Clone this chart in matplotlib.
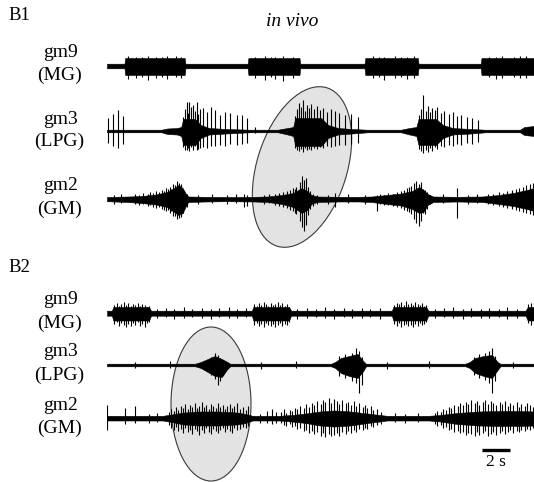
import numpy as np
import matplotlib
matplotlib.use("Agg")
import matplotlib.pyplot as plt
from matplotlib.patches import Ellipse

# ---------------- data (time in s, amplitudes in a.u.) ----------------
T_END = 30.5

# B1 gm9 (MG)
b1_gm9_env_t = [0, 1.25, 1.3, 5.55, 5.6, 10.05, 10.1, 13.75, 13.8, 18.4, 18.45, 22.2, 22.25, 26.7, 26.75, 30.5]
b1_gm9_env_up = [2.3, 2.3, 8, 8, 2.3, 2.3, 8, 8, 2.3, 2.3, 8, 8, 2.3, 2.3, 8, 8]
b1_gm9_env_dn = [2.3, 2.3, 9, 9, 2.3, 2.3, 9, 9, 2.3, 2.3, 9, 9, 2.3, 2.3, 9, 9]
b1_gm9_spk_t = [1.5, 2.1, 2.5, 2.9, 3.5, 3.9, 4.3, 4.9, 5.3, 10.6, 11.3, 11.7, 12.0, 12.6, 13.3, 19.0, 19.4, 19.8,
                20.6, 21.0, 21.4, 21.9, 27.3, 27.8, 28.2, 29.1, 29.5, 29.9]
b1_gm9_spk_up = [10, 9, 9, 10, 9, 9, 10, 10, 9, 9, 10, 9, 9, 10, 9, 10, 9, 9, 10, 9, 9, 10, 9, 9, 10, 9, 10, 10]
b1_gm9_spk_dn = [13, 12, 11, 14, 12, 11, 13, 11, 12, 12, 14, 11, 13, 15, 12, 12, 11, 14, 12, 11, 13, 12, 11, 13,
                 12, 11, 12, 12]

# B1 gm3 (LPG)
b1_gm3_env_t = [0, 3.9, 4.3, 5.0, 5.3, 5.45, 6.3, 6.7, 7.3, 8.5, 10.2, 12.2, 12.9, 13.3, 13.45, 15.3, 15.8, 16.5,
                17.5, 18.6, 21.0, 21.6, 22.1, 22.25, 23.5, 24.0, 24.7, 26.0, 27.0, 29.5, 29.8, 30.5]
b1_gm3_env_up = [1.3, 1.3, 2.5, 3, 4, 12, 12, 6, 3, 2, 1.3, 1.3, 3, 4, 13, 13, 6, 3,
                 2, 1.3, 1.3, 3, 4, 12, 12, 6, 3, 2, 1.3, 1.3, 4, 5]
b1_gm3_env_dn = [1.3, 1.3, 3, 3.5, 5, 14, 14, 7, 3.5, 2.5, 1.3, 1.3, 3.5, 5, 15, 15, 7, 3.5,
                 2.5, 1.3, 1.3, 3.5, 5, 14, 14, 7, 3.5, 2.5, 1.3, 1.3, 4, 5]
b1_gm3_spk_t = [0.07, 0.43, 0.79, 1.14,
                5.45, 5.6, 5.69, 5.8, 5.88, 6.0, 6.17, 6.28, 6.40, 6.52, 6.64, 6.88, 7.12, 7.43, 7.71, 8.07, 8.43,
                8.79, 9.26, 9.62, 9.98, 10.6,
                13.4, 13.55, 13.7, 13.85, 14.0, 14.15, 14.3, 14.45, 14.6, 14.8, 15.0, 15.2, 15.45, 15.7, 16.0, 16.3,
                16.6, 17.0, 17.4, 17.9,
                22.3, 22.45, 22.6, 22.75, 22.9, 23.05, 23.2, 23.4, 23.6, 23.85, 24.1, 24.4, 24.7, 25.0, 25.3, 25.7,
                26.1, 26.5]
b1_gm3_spk_up = [13, 17, 21, 15,
                 14, 22, 29, 18, 29, 24, 26, 20, 29, 17, 22, 23, 19, 24, 21, 16, 19,
                 18, 16, 16, 13, 4,
                 15, 22, 28, 24, 31, 20, 26, 23, 27, 22, 25, 21, 23, 19, 22, 20,
                 18, 16, 17, 14,
                 16, 22, 36, 20, 25, 19, 23, 21, 24, 18, 20, 17, 19, 15, 16, 14,
                 13, 11]
b1_gm3_spk_dn = [12, 15, 17, 13,
                 16, 19, 19, 17, 20, 16, 19, 15, 19, 18, 17, 16, 17, 15, 15, 14, 15,
                 13, 14, 13, 12, 2,
                 17, 19, 20, 18, 21, 17, 19, 18, 19, 17, 18, 16, 17, 15, 16, 15,
                 14, 14, 13, 12,
                 18, 20, 22, 19, 21, 17, 20, 16, 18, 15, 16, 14, 15, 13, 14, 12,
                 13, 11]

# B1 gm2 (GM)
b1_gm2_env_t = [0, 1.5, 2.5, 3.5, 4.3, 4.8, 5.1, 5.4, 5.6, 5.8, 7.0, 8.5, 10.5, 11.5, 12.5, 13.3, 13.9, 14.3,
                14.6, 15.0, 16.5, 18.0, 18.9, 20.0, 21.0, 21.8, 22.3, 22.6, 22.9, 23.3, 25.0, 26.8, 28.0, 29.0,
                30.0, 30.5]
b1_gm2_env_up = [2, 2.5, 3, 4.5, 7, 11, 14, 11, 6, 2.5, 2.2, 2, 2.2, 2.5, 4, 6, 11, 8,
                 4, 2.5, 2.2, 2.2, 2.5, 4, 5.5, 8, 12, 9, 5, 2.5, 2.2, 2.5, 4, 6,
                 9, 11]
b1_gm2_env_dn = [2.2, 3, 4, 5.5, 8, 13, 16, 14, 8, 3, 2.5, 2.2, 2.5, 3, 5, 8, 14, 11,
                 5, 3, 2.5, 2.5, 3, 5, 6.5, 10, 14, 13, 6, 3, 2.5, 3, 5, 7,
                 10, 12]
b1_gm2_spk_t = [4.6, 4.85, 5.0, 5.15, 5.3, 5.5, 9.8, 10.0, 13.5, 13.75, 13.9, 14.05, 14.2, 14.35, 16.3, 19.3,
                21.7, 21.95, 22.1, 22.25, 22.4, 22.55, 25.0,
                2.0, 2.3, 2.6, 2.9, 3.1, 3.3, 3.5, 3.7, 3.9, 4.05, 4.2, 4.35, 4.5, 4.7, 5.25, 5.45, 5.7,
                11.2, 11.6, 12.0, 12.3, 12.6, 12.85, 13.05, 13.25, 13.4, 14.5, 14.7, 15.0,
                19.5, 19.8, 20.1, 20.4, 20.7, 21.0, 21.2, 21.4, 21.55, 22.7, 22.85, 23.1,
                27.2, 27.6, 28.0, 28.3, 28.6, 28.9, 29.2, 29.45, 29.7, 29.95, 30.2, 30.4,
                0.5, 1.0, 6.5, 7.5, 8.6, 9.2, 15.8, 17.2, 18.4, 24.0, 25.8, 26.4]
b1_gm2_spk_up = [10, 14, 18, 16, 13, 8, 5, 4, 12, 17, 23, 19, 21, 12, 6, 4, 13, 16, 18, 15, 17, 10, 11,
                 5, 4, 6, 5, 7, 6, 8, 7, 9, 8, 11, 10, 12, 15, 15, 10, 5,
                 4, 5, 5, 6, 7, 8, 9, 11, 10, 8, 5, 4,
                 5, 4, 6, 5, 7, 8, 9, 11, 12, 9, 7, 4,
                 5, 5, 7, 6, 8, 9, 10, 11, 12, 14, 15, 16,
                 4, 5, 4, 5, 4, 5, 4, 5, 4, 5, 4, 5]
b1_gm2_spk_dn = [12, 17, 20, 19, 16, 10, 8, 7, 15, 22, 28, 32, 26, 16, 8, 12, 15, 20, 24, 27, 22, 14, 19,
                 5, 6, 5, 7, 6, 8, 9, 8, 10, 11, 12, 11, 14, 17, 18, 14, 8,
                 5, 4, 6, 7, 8, 9, 11, 12, 14, 10, 7, 5,
                 5, 6, 6, 7, 8, 9, 11, 12, 13, 15, 10, 5,
                 5, 6, 7, 8, 9, 10, 11, 12, 13, 14, 15, 16,
                 5, 4, 5, 4, 5, 4, 5, 4, 5, 4, 5, 4]

# B2 gm9 (MG)
b2_gm9_env_t = [0, 0.35, 0.45, 3.0, 3.15, 10.35, 10.45, 13.0, 13.15, 20.35, 20.45, 22.8, 22.95, 29.9, 30.05, 30.5]
b2_gm9_env_up = [2.3, 2.3, 6, 6, 2.3, 2.3, 6, 6, 2.3, 2.3, 6, 6, 2.3, 2.3, 6, 6]
b2_gm9_env_dn = [2.7, 2.7, 7.5, 7.5, 2.7, 2.7, 7.5, 7.5, 2.7, 2.7, 7.5, 7.5, 2.7, 2.7, 7.5, 7.5]
b2_gm9_spk_t = [0.5, 0.7, 0.85, 1.0, 1.2, 1.35, 1.5, 1.7, 1.85, 2.0, 2.2, 2.35, 2.5, 2.7, 2.85, 3.0,
                10.5, 10.7, 10.85, 11.0, 11.2, 11.35, 11.5, 11.7, 11.85, 12.0, 12.2, 12.35, 12.5, 12.7, 12.85, 13.0,
                20.5, 20.7, 20.85, 21.0, 21.2, 21.35, 21.5, 21.7, 21.85, 22.0, 22.2, 22.35, 22.5, 22.65, 22.8,
                30.1, 30.3,
                3.6, 4.2, 4.8, 5.5, 6.1, 6.8, 7.4, 8.0, 8.7, 9.3, 9.9, 13.6, 14.3, 14.9, 15.6, 16.2, 16.9, 17.5,
                18.2, 18.8, 19.5, 23.4, 24.1, 24.7, 25.4, 26.0, 26.7, 27.3, 28.0, 28.6, 29.3]
b2_gm9_spk_up = [8, 10, 7, 9, 11, 8, 10, 7, 9, 8, 10, 7, 9, 8, 6, 7,
                 9, 7, 10, 8, 11, 9, 7, 10, 8, 9, 11, 8, 10, 7, 9, 6,
                 8, 10, 9, 11, 8, 12, 9, 10, 8, 11, 9, 8, 10, 7, 8,
                 9, 10,
                 4, 5, 4, 6, 4, 5, 4, 5, 6, 4, 5, 4, 5, 4, 6, 4, 5, 4, 5, 4, 5, 4, 5, 6, 4, 5, 4, 5, 4, 6, 4]
b2_gm9_spk_dn = [11, 9, 13, 10, 12, 14, 11, 13, 10, 12, 9, 13, 11, 14, 10, 9,
                 12, 10, 13, 11, 14, 10, 12, 13, 11, 14, 12, 10, 13, 11, 12, 9,
                 11, 13, 10, 14, 12, 11, 13, 12, 14, 11, 13, 10, 12, 11, 9,
                 10, 12,
                 5, 4, 6, 5, 4, 5, 6, 4, 5, 5, 4, 6, 5, 4, 5, 6, 4, 5, 5, 4, 6, 5, 4, 5, 6, 4, 5, 5, 4, 6, 5]

# B2 gm3 (LPG)
b2_gm3_env_t = [0, 6.3, 6.7, 7.2, 7.7, 8.2, 8.6, 8.8, 16.0, 16.3, 16.7, 17.3, 17.9, 18.3, 18.5,
                25.6, 25.9, 26.3, 26.9, 27.5, 27.9, 28.1, 30.5]
b2_gm3_env_up = [1.3, 1.3, 3, 6, 9, 6, 3, 1.3, 1.3, 3, 7, 9, 11, 4, 1.3, 1.3, 3, 7, 9, 10, 3, 1.3, 1.3]
b2_gm3_env_dn = [1.3, 1.3, 3, 7, 11, 12, 4, 1.3, 1.3, 3, 8, 11, 13, 6, 1.3, 1.3, 3, 8, 11, 13, 5, 1.3, 1.3]
b2_gm3_spk_t = [7.4, 7.7, 7.9, 8.1, 8.3, 16.6, 17.0, 17.5, 17.8, 18.0, 18.2,
                26.2, 26.6, 27.0, 27.3, 27.5, 27.7, 2.0, 4.5, 11.0, 13.5, 20.0, 23.0, 29.0]
b2_gm3_spk_up = [8, 12, 10, 7, 5, 9, 11, 12, 17, 14, 8, 8, 11, 12, 14, 17, 9, 3, 4, 3, 4, 3, 4, 3]
b2_gm3_spk_dn = [10, 14, 20, 16, 10, 11, 13, 16, 18, 28, 20, 10, 13, 15, 18, 28, 16, 3, 3, 4, 3, 4, 3, 3]

# B2 gm2 (GM)
b2_gm2_env_t = [0, 4.0, 4.6, 5.5, 6.5, 8.0, 9.3, 9.9, 10.4, 12.3, 13.2, 14.2, 15.2, 16.2, 17.4, 18.6, 19.5, 20.0,
                23.0, 23.8, 25.0, 26.5, 28.0, 29.5, 30.5]
b2_gm2_env_up = [2.2, 2.2, 3.5, 5.5, 6.5, 6.5, 5.5, 4, 2.2, 2.2, 3, 4.5, 6.5, 7.5, 6.5, 4.5, 3, 2.2,
                 2.2, 3, 5, 6.5, 7, 7, 6.5]
b2_gm2_env_dn = [2.5, 2.5, 4, 6.5, 7.5, 7.5, 6.5, 5, 2.5, 2.5, 3.5, 5, 7.5, 8.5, 7.5, 5, 3.5, 2.5,
                 2.5, 3.5, 6, 7.5, 8, 8, 7.5]
b2_gm2_spk_t = [0.0, 1.3, 2.0,
                4.4, 4.6, 4.75, 4.95, 5.1, 5.3, 5.45, 5.6, 5.8, 5.95, 6.1, 6.3, 6.45, 6.6, 6.8, 6.95, 7.1,
                7.3, 7.45, 7.6, 7.8, 7.95, 8.1, 8.3, 8.45, 8.6, 8.8, 8.95, 9.1, 9.3, 9.5, 9.7, 9.9, 10.1,
                11.4, 11.8, 12.1,
                12.4, 12.65, 12.8, 13.05, 13.2, 13.45, 13.6, 13.8, 14.05, 14.2, 14.4, 14.65, 14.8, 15.0, 15.25,
                15.4, 15.6, 15.85, 16.0, 16.2, 16.45, 16.6, 16.8, 17.05, 17.2, 17.4, 17.65, 17.8, 18.0, 18.25,
                18.4, 18.6, 18.85, 19.0, 19.3, 19.6,
                23.4, 23.6, 23.85, 24.0, 24.2, 24.45, 24.6, 24.8, 25.05, 25.2, 25.4, 25.65, 25.8, 26.0, 26.25,
                26.4, 26.6, 26.85, 27.0, 27.2, 27.45, 27.6, 27.8, 28.05, 28.2, 28.4, 28.65, 28.8, 29.0, 29.25,
                29.4, 29.6, 29.85, 30.0, 30.2, 30.4,
                3.0, 3.6, 10.9, 20.6, 21.3, 22.2]
b2_gm2_spk_up = [13, 10, 12,
                 6, 9, 7, 11, 8, 12, 10, 14, 9, 13, 11, 15, 10, 12, 16, 11, 13,
                 9, 14, 12, 10, 15, 11, 13, 9, 12, 14, 10, 12, 15, 9, 11, 8, 12,
                 7, 9, 6,
                 6, 9, 5, 8, 7, 10, 9, 12, 10, 14, 11, 15, 13, 17, 14,
                 18, 16, 20, 15, 19, 17, 14, 18, 15, 16, 13, 17, 12, 15, 11,
                 13, 10, 12, 8, 9, 6,
                 5, 7, 6, 9, 8, 11, 10, 13, 12, 15, 13, 16, 14, 18, 15,
                 17, 13, 16, 18, 14, 17, 15, 13, 16, 14, 17, 12, 15, 13, 16,
                 11, 14, 12, 15, 13, 11,
                 4, 5, 4, 5, 4, 5]
b2_gm2_spk_dn = [12, 6, 5,
                 7, 10, 12, 9, 13, 11, 15, 10, 14, 12, 16, 11, 13, 17, 12, 15, 10,
                 14, 16, 11, 13, 15, 12, 10, 14, 11, 13, 15, 10, 12, 11, 9, 10, 8,
                 5, 6, 5,
                 5, 7, 8, 6, 9, 8, 11, 10, 13, 12, 15, 13, 16, 14, 18,
                 15, 19, 16, 18, 17, 15, 18, 14, 16, 13, 15, 12, 14, 11, 12,
                 10, 11, 8, 9, 7, 6,
                 6, 8, 7, 10, 9, 12, 11, 14, 13, 15, 14, 17, 15, 16, 18,
                 14, 17, 15, 13, 18, 16, 14, 17, 15, 13, 16, 14, 12, 15, 13,
                 14, 12, 13, 11, 12, 10,
                 5, 4, 5, 4, 5, 4]

trace_names = ["gm9\n(MG)", "gm3\n(LPG)", "gm2\n(GM)", "gm9\n(MG)", "gm3\n(LPG)", "gm2\n(GM)"]
scale_bar_s = 2

# ---------------- layout ----------------
W, H = 534, 482
fig = plt.figure(figsize=(W / 100, H / 100), dpi=100)
fig.patch.set_facecolor("white")

SERIF = ["Liberation Serif", "DejaVu Serif"]

# background axes in pixel units for the highlight ellipses
bg = fig.add_axes([0, 0, 1, 1], zorder=0)
bg.set_xlim(0, W)
bg.set_ylim(0, H)
bg.axis("off")
bg.add_patch(Ellipse((302, H - 167), 166, 90, angle=72.5, facecolor="#e3e3e3",
                     edgecolor="#3a3a3a", lw=0.8))
bg.add_patch(Ellipse((211, H - 404), 80, 154, angle=0, facecolor="#e3e3e3",
                     edgecolor="#3a3a3a", lw=0.8))

# trace axes
x0 = 107
ax = fig.add_axes([x0 / W, 0, (W - x0) / W, 1], zorder=1)
ax.patch.set_alpha(0)
ax.set_xlim(0, T_END)
ax.set_ylim(H, 0)
ax.axis("off")

rows = [66, 131, 199, 313, 365, 418]
traces = [
    (b1_gm9_env_t, b1_gm9_env_up, b1_gm9_env_dn, b1_gm9_spk_t, b1_gm9_spk_up, b1_gm9_spk_dn),
    (b1_gm3_env_t, b1_gm3_env_up, b1_gm3_env_dn, b1_gm3_spk_t, b1_gm3_spk_up, b1_gm3_spk_dn),
    (b1_gm2_env_t, b1_gm2_env_up, b1_gm2_env_dn, b1_gm2_spk_t, b1_gm2_spk_up, b1_gm2_spk_dn),
    (b2_gm9_env_t, b2_gm9_env_up, b2_gm9_env_dn, b2_gm9_spk_t, b2_gm9_spk_up, b2_gm9_spk_dn),
    (b2_gm3_env_t, b2_gm3_env_up, b2_gm3_env_dn, b2_gm3_spk_t, b2_gm3_spk_up, b2_gm3_spk_dn),
    (b2_gm2_env_t, b2_gm2_env_up, b2_gm2_env_dn, b2_gm2_spk_t, b2_gm2_spk_up, b2_gm2_spk_dn),
]

tg = np.linspace(0, T_END, 3000)
for y0, (et, eu, ed, st, su, sd) in zip(rows, traces):
    up = np.interp(tg, et, eu)
    dn = np.interp(tg, et, ed)
    ax.fill_between(tg, y0 - up, y0 + dn, color="black", lw=0.4)
    ax.vlines(np.asarray(st), y0 - np.asarray(su), y0 + np.asarray(sd), color="black", lw=0.8)

# scale bar
sb_t0 = 26.8
ax.plot([sb_t0, sb_t0 + scale_bar_s], [450, 450], color="black", lw=2.4, solid_capstyle="butt")
ax.text(sb_t0 + scale_bar_s / 2, 462, f"{scale_bar_s} s", ha="center", va="center",
        fontsize=12.5, family=SERIF)

# labels
def ftext(x, y, s, **kw):
    fig.text(x / W, 1 - y / H, s, ha="center", va="center", family=SERIF, **kw)

label_y = [(52, 75), (119, 141), (186, 209), (300, 323), (352, 375), (406, 428)]
for name, (ya, yb) in zip(trace_names, label_y):
    top, bot = name.split("\n")
    ftext(61, ya, top, fontsize=14)
    ftext(59, yb, bot, fontsize=14)

ftext(19, 16, "B1", fontsize=13.5)
ftext(19, 268, "B2", fontsize=13.5)
ftext(292, 22, "in vivo", fontsize=14, style="italic")

fig.savefig("out.png", dpi=100)
